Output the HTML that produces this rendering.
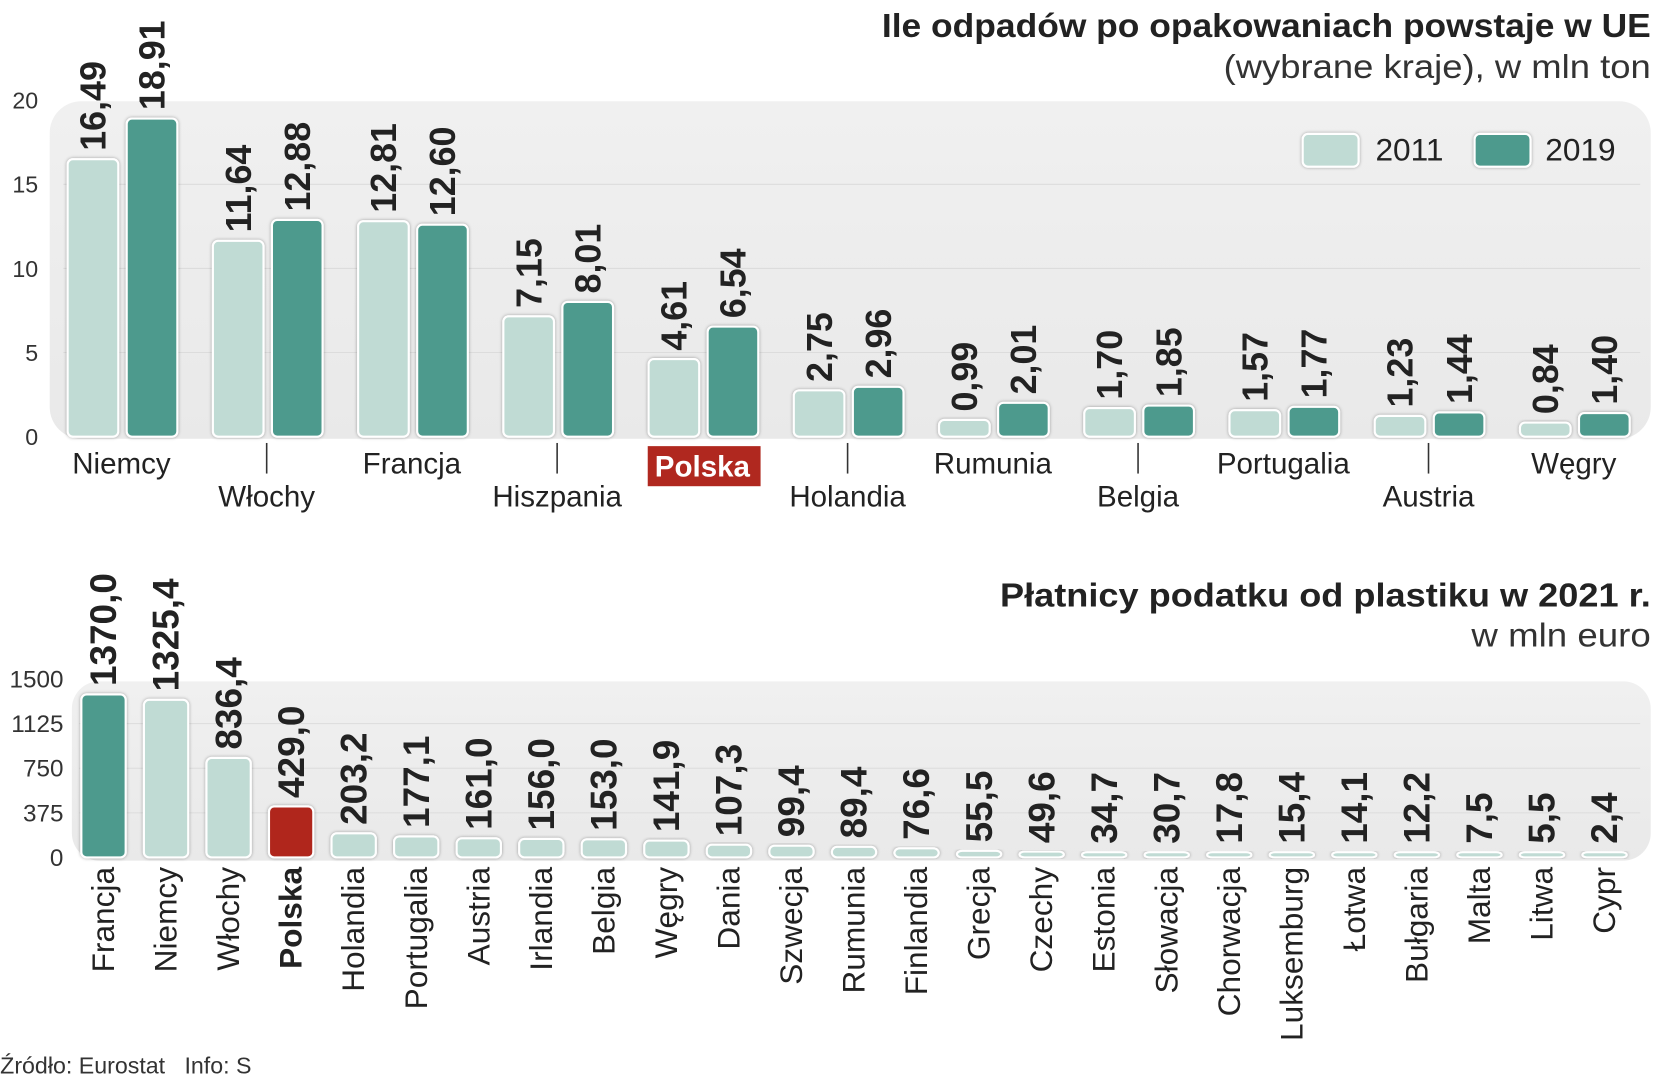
<!DOCTYPE html>
<html><head><meta charset="utf-8">
<style>
html,body{margin:0;padding:0;background:#fff;}
svg{display:block;}
.cond{font-family:"Liberation Sans Narrow","Liberation Sans",sans-serif;font-weight:bold;}
.reg{font-family:"Liberation Sans",sans-serif;}
</style></head>
<body>
<svg id="chart" width="1653" height="1080" viewBox="0 0 1567 1024" xmlns="http://www.w3.org/2000/svg">
<defs>
<linearGradient id="pg" x1="0" y1="0" x2="0" y2="1">
<stop offset="0" stop-color="#f0f0f0"/><stop offset="1" stop-color="#e9e9e9"/>
</linearGradient>
<filter id="sh" x="-20%" y="-20%" width="140%" height="140%"><feDropShadow dx="0" dy="0" stdDeviation="1.5" flood-color="#000" flood-opacity="0.35"/></filter>
</defs>
<text class="reg" x="1565" y="35" text-anchor="end" font-size="32" font-weight="bold" fill="#222" textLength="729" lengthAdjust="spacingAndGlyphs">Ile odpadów po opakowaniach powstaje w UE</text>
<text class="reg" x="1565" y="74" text-anchor="end" font-size="32" fill="#333" textLength="405" lengthAdjust="spacingAndGlyphs">(wybrane kraje), w mln ton</text>
<rect x="47" y="96" width="1518" height="320" rx="30" fill="url(#pg)"/>
<g id="topG"></g>
<g>
<rect x="1235" y="127" width="53" height="31" rx="5" fill="#c0dbd4" stroke="#fff" stroke-width="2" filter="url(#sh)"/>
<text class="reg" x="1304" y="152" font-size="30" fill="#222">2011</text>
<rect x="1398" y="127" width="53" height="31" rx="5" fill="#4e9a8d" stroke="#fff" stroke-width="2" filter="url(#sh)"/>
<text class="reg" x="1465" y="152" font-size="30" fill="#222">2019</text>
</g>
<text class="reg" x="1565" y="575" text-anchor="end" font-size="32" font-weight="bold" fill="#222" textLength="617" lengthAdjust="spacingAndGlyphs">Płatnicy podatku od plastiku w 2021 r.</text>
<text class="reg" x="1565" y="613" text-anchor="end" font-size="32" fill="#333" textLength="170" lengthAdjust="spacingAndGlyphs">w mln euro</text>
<rect x="68" y="646" width="1497" height="170" rx="26" fill="url(#pg)"/>
<g id="botG"></g>
<text class="reg" x="0" y="1018" font-size="22" fill="#333" xml:space="preserve">Źródło: Eurostat   Info: S</text>
</svg>
<script>
const NS="http://www.w3.org/2000/svg";
const topCountries=["Niemcy","Włochy","Francja","Hiszpania","Polska","Holandia","Rumunia","Belgia","Portugalia","Austria","Węgry"];
const topV2011=[16.49,11.64,12.81,7.15,4.61,2.75,0.99,1.70,1.57,1.23,0.84];
const topV2019=[18.91,12.88,12.60,8.01,6.54,2.96,2.01,1.85,1.77,1.44,1.40];
const topTicks=[0,5,10,15,20];
const botCountries=["Francja","Niemcy","Włochy","Polska","Holandia","Portugalia","Austria","Irlandia","Belgia","Węgry","Dania","Szwecja","Rumunia","Finlandia","Grecja","Czechy","Estonia","Słowacja","Chorwacja","Luksemburg","Łotwa","Bułgaria","Malta","Litwa","Cypr"];
const botValues=[1370.0,1325.4,836.4,429.0,203.2,177.1,161.0,156.0,153.0,141.9,107.3,99.4,89.4,76.6,55.5,49.6,34.7,30.7,17.8,15.4,14.1,12.2,7.5,5.5,2.4];
const botTicks=[0,375,750,1125,1500];

function el(tag,attrs,parent,txt){const e=document.createElementNS(NS,tag);for(const k in attrs)e.setAttribute(k,attrs[k]);if(txt!==undefined)e.textContent=txt;parent.appendChild(e);return e;}
const fmt=(v,d)=>v.toFixed(d).replace('.',',');

const topG=document.getElementById('topG');
const yT=v=>414-v*15.95;
topTicks.forEach(t=>{
  if(t>0&&t<20){const g=el('line',{x1:60,x2:1555,y1:yT(t),y2:yT(t),stroke:'#dcdcdc','stroke-width':1},topG);
  
  }
  const l=el('text',{x:36,y:yT(t)+8,'text-anchor':'end','font-size':22,fill:'#333',class:'reg'},topG,String(t));
  
  
});
const gx=i=>115+i*137.7;
topCountries.forEach((c,i)=>{
  const cx=gx(i);
  [[topV2011[i],cx-27,'#c0dbd4','2011'],[topV2019[i],cx+29,'#4e9a8d','2019']].forEach(([v,bx,col,yr])=>{
    const y=yT(v);
    const r=el('rect',{x:bx-24,y:y,width:48,height:Math.max(414-y,4),rx:5,fill:col,stroke:'#fff','stroke-width':2,filter:'url(#sh)'},topG);
    
    
    const t=el('text',{x:0,y:0,transform:`translate(${bx+12},${y-8}) rotate(-90)`,'font-size':34,fill:'#222',class:'cond'},topG,fmt(v,2));
    
    
  });
  const low=i%2===1;
  if(low){const tk=el('line',{x1:cx,x2:cx,y1:420,y2:449,stroke:'#333','stroke-width':1.5},topG);
    
    }
  const ly=low?480:449;
  if(c==='Polska'){
    const bg=el('rect',{x:614,y:423,width:107,height:38,fill:'#b0281f'},topG);
    
    
    const t=el('text',{x:cx,y:452,'text-anchor':'middle','font-size':28,fill:'#fff','font-weight':'bold',class:'reg'},topG,c);
    
    
  } else {
    const t=el('text',{x:cx,y:ly,'text-anchor':'middle','font-size':28,fill:'#222',class:'reg'},topG,c);
    
    
  }
});

const botG=document.getElementById('botG');
const yB=v=>813-v*(169.2/1500);
botTicks.forEach(t=>{
  if(t>0&&t<1500){const g=el('line',{x1:75,x2:1555,y1:yB(t),y2:yB(t),stroke:'#dcdcdc','stroke-width':1},botG);
  
  }
  const l=el('text',{x:60,y:yB(t)+8,'text-anchor':'end','font-size':23,fill:'#333',class:'reg'},botG,String(t));
  
  
});
botCountries.forEach((c,i)=>{
  const cx=98+i*59.3, v=botValues[i], y=yB(v);
  const col=i===0?'#4e9a8d':(c==='Polska'?'#b0281f':'#c0dbd4');
  const r=el('rect',{x:cx-21,y:Math.min(y,808),width:42,height:Math.max(813-y,5),rx:5,fill:col,stroke:'#fff','stroke-width':2,filter:'url(#sh)'},botG);
  
  
  const t=el('text',{x:0,y:0,transform:`translate(${cx+12},${Math.min(y,808)-8}) rotate(-90)`,'font-size':35,fill:'#222',class:'cond'},botG,fmt(v,1));
  
  
  const lb=el('text',{x:0,y:0,transform:`translate(${cx+10},${822}) rotate(-90)`,'text-anchor':'end','font-size':30,fill:'#222',class:'reg','font-weight':c==='Polska'?'bold':'normal'},botG,c);
  
  
});
</script>
</body></html>
